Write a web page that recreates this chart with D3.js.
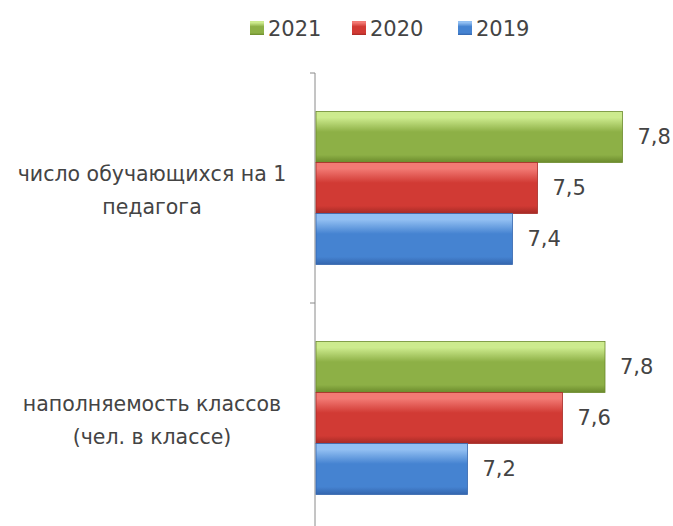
<!DOCTYPE html>
<html>
<head>
<meta charset="utf-8">
<script src="https://cdn.jsdelivr.net/npm/d3@7"></script>
<style>
  html, body { margin: 0; padding: 0; background: #fff; }
  svg text { font-family: "DejaVu Sans", Verdana, sans-serif; fill: #444; }
</style>
</head>
<body>
<svg id="chart" width="673" height="526"></svg>
<script>
const categories = [
  ["число обучающихся на 1", "педагога"],
  ["наполняемость классов", "(чел. в классе)"]
];
const seriesNames = ["2021", "2020", "2019"];
const values2021 = [7.83, 7.76];
const values2020 = [7.49, 7.59];
const values2019 = [7.39, 7.21];
const seriesValues = [values2021, values2020, values2019];
const colors = [
  { light: "#cdeb8e", mid: "#8db046", dark: "#6b8a2c" },
  { light: "#f27a74", mid: "#d13a34", dark: "#a62a25" },
  { light: "#92bff2", mid: "#4583d1", dark: "#3465ad" }
];

const svg = d3.select("#chart");
const defs = svg.append("defs");
colors.forEach((c, i) => {
  const g = defs.append("linearGradient").attr("id", "grad" + i)
    .attr("x1", 0).attr("y1", 0).attr("x2", 0).attr("y2", 1);
  g.append("stop").attr("offset", "0%").attr("stop-color", c.light);
  g.append("stop").attr("offset", "12%").attr("stop-color", c.light);
  g.append("stop").attr("offset", "40%").attr("stop-color", c.mid);
  g.append("stop").attr("offset", "85%").attr("stop-color", c.mid);
  g.append("stop").attr("offset", "100%").attr("stop-color", c.dark);
});

const x = d3.scaleLinear().domain([6.6, 8.0]).range([315, 665]);
const y = d3.scaleBand().domain(d3.range(categories.length)).range([73, 533]).paddingInner(0).paddingOuter(0);
const inner = d3.scaleBand().domain(d3.range(seriesNames.length)).range([38.5, y.bandwidth() - 38.5]).padding(0);

// axis
const axG = svg.append("g").attr("transform", "translate(315,0)");
const boundaries = d3.range(categories.length + 1).map(i => y.range()[0] + i * y.step());
axG.selectAll("line.bt").data(boundaries).enter().append("line")
  .attr("x1", -5).attr("x2", 0).attr("y1", d => d).attr("y2", d => d)
  .attr("stroke", "#8a8a8a").attr("stroke-width", 1);
axG.append("line").attr("x1", 0).attr("x2", 0).attr("y1", y.range()[0]).attr("y2", y.range()[1])
  .attr("stroke", "#8a8a8a").attr("stroke-width", 1);

// bars
const groups = svg.selectAll("g.cat").data(categories).enter().append("g")
  .attr("transform", (d, i) => `translate(0,${y(i)})`);
groups.each(function(cat, ci) {
  const g = d3.select(this);
  seriesValues.forEach((vals, si) => {
    const v = vals[ci];
    g.append("rect")
      .attr("x", x(6.6) + 1)
      .attr("y", inner(si))
      .attr("width", x(v) - x(6.6) - 1)
      .attr("height", inner.bandwidth())
      .attr("fill", `url(#grad${si})`)
      .attr("stroke", colors[si].dark).attr("stroke-width", 0.8);
    g.append("text")
      .attr("x", x(v) + 15)
      .attr("y", inner(si) + inner.bandwidth() / 2)
      .attr("dy", "0.35em")
      .attr("font-size", 21)
      .text(d3.format(".1f")(v).replace(".", ","));
  });
  // category label
  const t = g.append("text").attr("text-anchor", "middle").attr("font-size", 20.5);
  cat.forEach((line, li) => {
    t.append("tspan").attr("x", 152)
      .attr("y", y.bandwidth() / 2 - 14 + li * 33)
      .attr("dy", "0.35em")
      .text(line);
  });
});

// legend
const legendX = [250, 352, 458];
const lg = svg.selectAll("g.leg").data(seriesNames).enter().append("g")
  .attr("transform", (d, i) => `translate(${legendX[i]},21)`);
lg.append("rect").attr("width", 14).attr("height", 14)
  .attr("fill", (d, i) => `url(#grad${i})`);
lg.append("text").attr("x", 18).attr("y", 7).attr("dy", "0.36em")
  .attr("font-size", 21).text(d => d);
</script>
</body>
</html>
